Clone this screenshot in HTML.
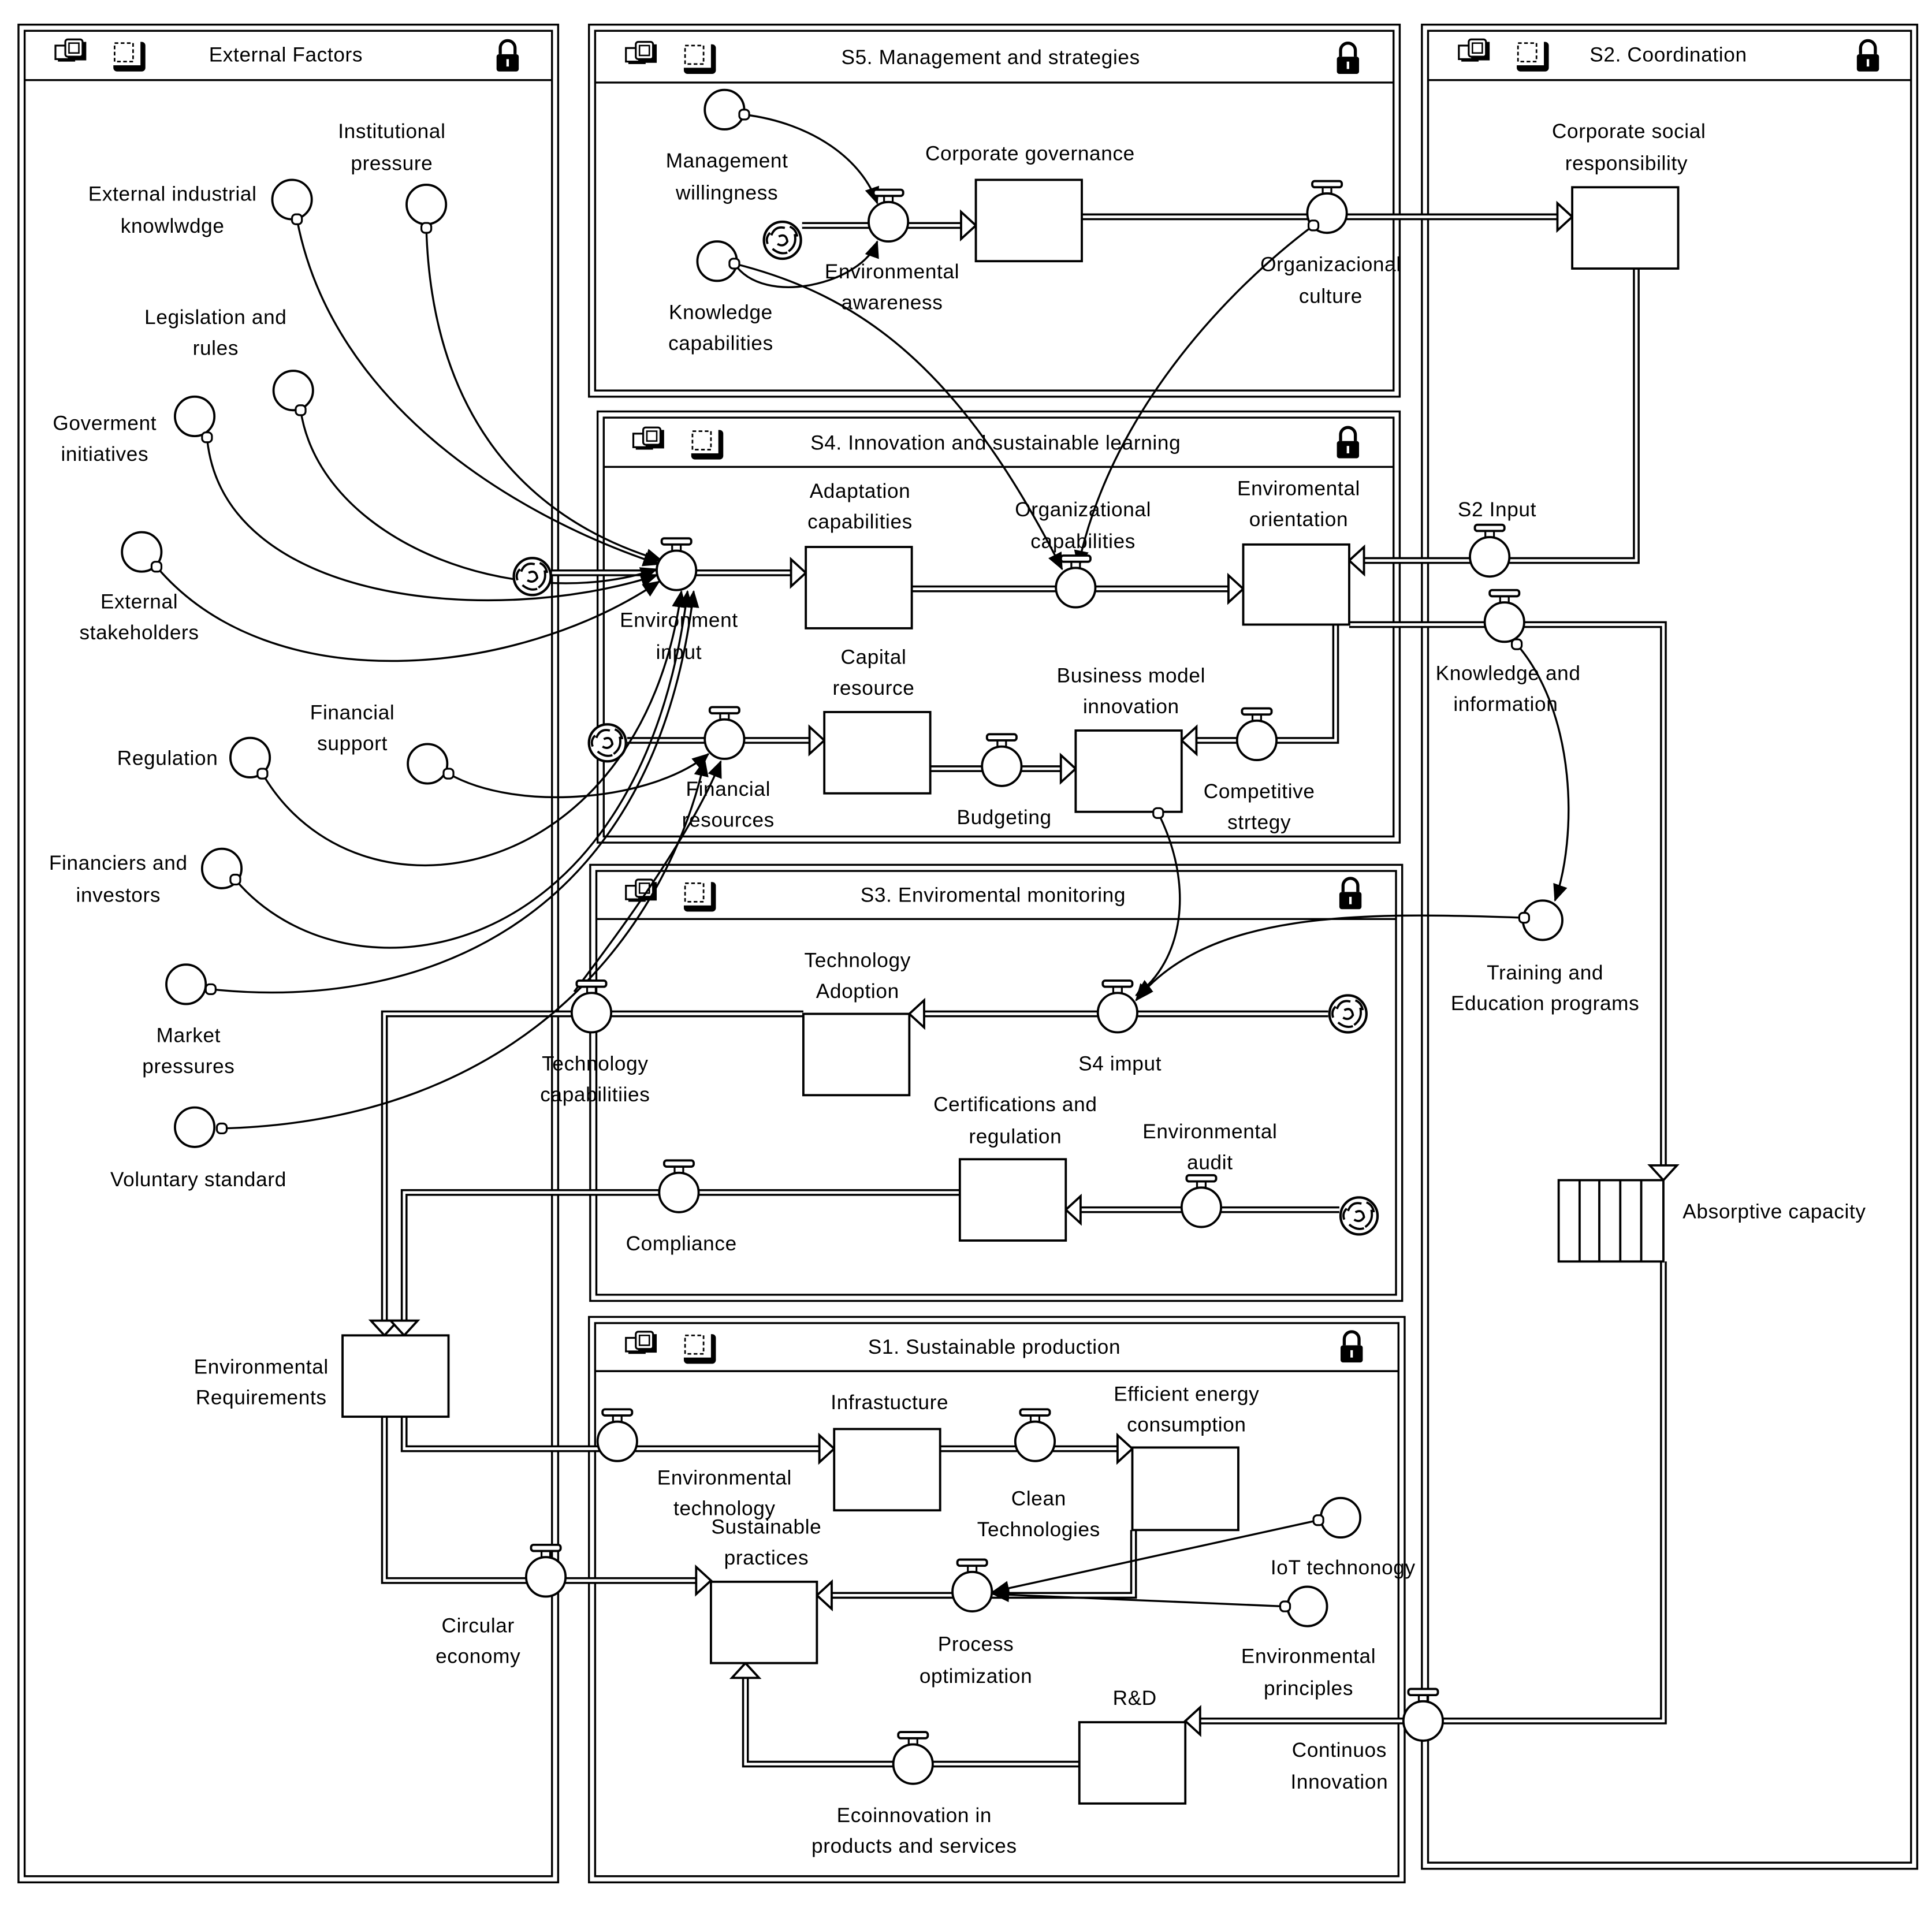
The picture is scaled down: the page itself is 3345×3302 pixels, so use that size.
<!DOCTYPE html>
<html><head><meta charset="utf-8"><style>
html,body{margin:0;padding:0;background:#fff}
svg{display:block}
text{font-family:"Liberation Sans",sans-serif;font-size:16.5px;fill:#000;text-anchor:middle;letter-spacing:0.3px}
</style></head><body>
<svg width="3345" height="3302" viewBox="0 0 1568 1548" preserveAspectRatio="none" xmlns="http://www.w3.org/2000/svg">
<defs>
<marker id="ar" markerWidth="14" markerHeight="12" refX="13" refY="6" orient="auto" markerUnits="userSpaceOnUse"><path d="M0,0 L14,6 L0,12 z" fill="#000"/></marker>
<g id="valve"><rect x="-3.5" y="-22" width="7" height="6" fill="#fff" stroke="#000" stroke-width="1.5"/><rect x="-12" y="-26" width="24" height="5" rx="2" fill="#fff" stroke="#000" stroke-width="1.8"/><circle r="16" fill="#fff" stroke="#000" stroke-width="1.8"/></g>
<g id="aux"><circle r="16" fill="#fff" stroke="#000" stroke-width="1.8"/></g>
<g id="cloud"><circle r="15" fill="#fff" stroke="#000" stroke-width="2"/><path d="M-9,-4 Q-6,-12 2,-10 M10,-5 Q12,4 5,9 M-8,7 Q-2,12 4,10 M-3,-3 Q3,-6 4,1 Q1,6 -4,3 M-12,3 Q-14,-2 -10,-6 M6,-11 Q11,-9 12,-3" fill="none" stroke="#000" stroke-width="1.8"/></g>
<g id="icons"><rect x="3" y="3" width="14" height="12" fill="#000"/><rect x="1" y="2" width="13" height="11" fill="#fff" stroke="#000" stroke-width="1.5"/><rect x="11" y="-1" width="15" height="15" fill="#000"/><rect x="9" y="-3" width="14" height="14" rx="2" fill="#fff" stroke="#000" stroke-width="1.5"/><rect x="12" y="0" width="8" height="8" fill="none" stroke="#000" stroke-width="1.2"/>
<rect x="48" y="-1" width="26" height="24" rx="3" fill="#000"/><rect x="45" y="-4" width="25" height="22" fill="#fff"/><rect x="49" y="0" width="15" height="15" fill="none" stroke="#000" stroke-width="1.3" stroke-dasharray="3,2"/></g>
<g id="lock"><path d="M-6,-3 V-8 A6,6 0 0 1 6,-8 V-3" fill="none" stroke="#000" stroke-width="2.5"/><rect x="-9" y="-3" width="18" height="14" rx="2" fill="#000"/><rect x="-1" y="1" width="2" height="6" fill="#fff"/></g>
<g id="dot"><rect x="-4" y="-4" width="8" height="8" rx="3" fill="#fff" stroke="#000" stroke-width="1.5"/></g>
</defs>
<g fill="none" stroke="#000" stroke-width="1.6">
<!-- panels -->
<rect x="15" y="20" width="438" height="1508"/><rect x="20" y="25" width="428" height="1498"/><line x1="20" y1="65" x2="448" y2="65"/>
<rect x="478" y="20" width="658" height="302"/><rect x="483" y="25" width="648" height="292"/><line x1="483" y1="67" x2="1131" y2="67"/>
<rect x="1154" y="20" width="402" height="1497"/><rect x="1159" y="25" width="392" height="1487"/><line x1="1159" y1="65" x2="1551" y2="65"/>
<rect x="485" y="334" width="651" height="350"/><rect x="490" y="339" width="641" height="340"/><line x1="490" y1="379" x2="1131" y2="379"/>
<rect x="479" y="702" width="659" height="354"/><rect x="484" y="707" width="649" height="344"/><line x1="484" y1="746" x2="1133" y2="746"/>
<rect x="478" y="1069" width="662" height="459"/><rect x="483" y="1074" width="652" height="449"/><line x1="483" y1="1113" x2="1135" y2="1113"/>
</g>
<use href="#icons" x="44" y="35"/><use href="#lock" x="412" y="47"/>
<use href="#icons" x="507" y="37"/><use href="#lock" x="1094" y="49"/>
<use href="#icons" x="1183" y="35"/><use href="#lock" x="1516" y="47"/>
<use href="#icons" x="513" y="350"/><use href="#lock" x="1094" y="361"/>
<use href="#icons" x="507" y="717"/><use href="#lock" x="1096" y="727"/>
<use href="#icons" x="507" y="1084"/><use href="#lock" x="1097" y="1095"/>
<text x="232" y="50">External Factors</text>
<text x="804" y="52">S5. Management and strategies</text>
<text x="1354" y="50">S2. Coordination</text>
<text x="808" y="365">S4. Innovation and sustainable learning</text>
<text x="806" y="732">S3. Enviromental monitoring</text>
<text x="807" y="1099">S1. Sustainable production</text>

<!-- pipes -->
<g fill="none" stroke-linejoin="miter">
<g stroke="#000" stroke-width="5.5">
<path d="M651,183 H782"/><path d="M878,176 H1266"/><path d="M1328,218 V455 H1105"/>
<path d="M448,465 H644"/><path d="M740,478 H999"/><path d="M1095,507 H1350 V948"/><path d="M1084,507 V601 H969"/>
<path d="M509,601 H659"/><path d="M755,624 H863"/>
<path d="M1078,823 H748"/><path d="M652,823 H312 V1074"/><path d="M1087,982 H875"/><path d="M779,968 H328 V1074"/>
<path d="M328,1150 V1176 H667"/><path d="M763,1176 H909"/><path d="M312,1150 V1283 H567"/><path d="M920,1242 V1295 H673"/>
<path d="M1350,1024 V1397 H972"/><path d="M876,1432 H605 V1360"/>
</g>
<g stroke="#fff" stroke-width="2.2">
<path d="M651,183 H782"/><path d="M878,176 H1266"/><path d="M1328,218 V455 H1105"/>
<path d="M448,465 H644"/><path d="M740,478 H999"/><path d="M1095,507 H1350 V948"/><path d="M1084,507 V601 H969"/>
<path d="M509,601 H659"/><path d="M755,624 H863"/>
<path d="M1078,823 H748"/><path d="M652,823 H312 V1074"/><path d="M1087,982 H875"/><path d="M779,968 H328 V1074"/>
<path d="M328,1150 V1176 H667"/><path d="M763,1176 H909"/><path d="M312,1150 V1283 H567"/><path d="M920,1242 V1295 H673"/>
<path d="M1350,1024 V1397 H972"/><path d="M876,1432 H605 V1360"/>
</g>
</g>
<!-- hollow arrowheads -->
<g fill="#fff" stroke="#000" stroke-width="1.8">
<path d="M780,172 L792,183 L780,194 z"/><path d="M1264,165 L1276,176 L1264,187 z"/><path d="M1107,444 L1095,455 L1107,466 z"/>
<path d="M642,454 L654,465 L642,476 z"/><path d="M997,467 L1009,478 L997,489 z"/><path d="M1339,946 L1350,958 L1361,946 z"/><path d="M971,590 L959,601 L971,612 z"/>
<path d="M657,590 L669,601 L657,612 z"/><path d="M861,613 L873,624 L861,635 z"/>
<path d="M750,812 L738,823 L750,834 z"/><path d="M301,1072 L312,1084 L323,1072 z"/><path d="M877,971 L865,982 L877,993 z"/><path d="M317,1072 L328,1084 L339,1072 z"/>
<path d="M665,1165 L677,1176 L665,1187 z"/><path d="M907,1165 L919,1176 L907,1187 z"/><path d="M565,1272 L577,1283 L565,1294 z"/><path d="M675,1284 L663,1295 L675,1306 z"/>
<path d="M974,1386 L962,1397 L974,1408 z"/><path d="M594,1362 L605,1350 L616,1362 z"/>
</g>
<!-- stocks -->
<g fill="#fff" stroke="#000" stroke-width="1.8">
<rect x="792" y="146" width="86" height="66"/><rect x="1276" y="152" width="86" height="66"/>
<rect x="654" y="444" width="86" height="66"/><rect x="1009" y="442" width="86" height="65"/>
<rect x="669" y="578" width="86" height="66"/><rect x="873" y="593" width="86" height="66"/>
<rect x="652" y="823" width="86" height="66"/><rect x="779" y="941" width="86" height="66"/>
<rect x="278" y="1084" width="86" height="66"/>
<rect x="677" y="1160" width="86" height="66"/><rect x="919" y="1175" width="86" height="67"/>
<rect x="577" y="1284" width="86" height="66"/><rect x="876" y="1398" width="86" height="66"/>
<rect x="1265" y="958" width="85" height="66"/>
<path d="M1282,958 V1024 M1298,958 V1024 M1315,958 V1024 M1332,958 V1024"/>
</g>
<!-- connectors -->
<g fill="none" stroke="#000" stroke-width="1.6" marker-end="url(#ar)">
<path d="M241,178 C270,330 420,420 535,458"/>
<path d="M346,185 C350,330 420,420 537,455"/>
<path d="M244,333 C260,440 420,500 533,462"/>
<path d="M168,355 C180,490 400,510 533,467"/>
<path d="M127,460 C220,570 420,550 535,472"/>
<path d="M213,628 C290,760 520,720 553,480"/>
<path d="M191,714 C280,820 520,790 558,480"/>
<path d="M171,803 C330,820 530,760 563,480"/>
<path d="M180,916 C420,910 540,760 572,617"/>
<path d="M364,628 C420,660 530,650 575,612"/>
<path d="M466,805 C500,760 560,680 585,618"/>
<path d="M604,93 C660,100 700,130 712,165"/>
<path d="M596,214 C620,250 700,230 712,196"/>
<path d="M596,214 C700,240 780,300 862,462"/>
<path d="M1066,183 C990,240 900,340 875,460"/>
<path d="M1231,523 C1280,580 1280,680 1262,731"/>
<path d="M1237,745 C1100,740 980,740 922,812"/>
<path d="M940,660 C970,720 960,780 922,808"/>
<path d="M1070,1234 L806,1292"/>
<path d="M1043,1304 L806,1294"/>
</g>
<!-- valves -->
<use href="#valve" x="721" y="180"/><use href="#valve" x="1077" y="173"/>
<use href="#valve" x="549" y="463"/><use href="#valve" x="873" y="477"/><use href="#valve" x="1209" y="452"/><use href="#valve" x="1221" y="505"/>
<use href="#valve" x="588" y="600"/><use href="#valve" x="813" y="622"/><use href="#valve" x="1020" y="601"/>
<use href="#valve" x="907" y="822"/><use href="#valve" x="480" y="822"/><use href="#valve" x="975" y="980"/><use href="#valve" x="551" y="968"/>
<use href="#valve" x="501" y="1170"/><use href="#valve" x="840" y="1170"/><use href="#valve" x="443" y="1280"/><use href="#valve" x="789" y="1292"/>
<use href="#valve" x="1155" y="1397"/><use href="#valve" x="741" y="1432"/>
<!-- clouds -->
<use href="#cloud" x="635" y="195"/><use href="#cloud" x="432" y="468"/><use href="#cloud" x="493" y="603"/><use href="#cloud" x="1094" y="823"/><use href="#cloud" x="1103" y="987"/>
<!-- auxiliaries -->
<use href="#aux" x="237" y="162"/><use href="#aux" x="346" y="166"/><use href="#aux" x="238" y="317"/><use href="#aux" x="158" y="338"/>
<use href="#aux" x="115" y="448"/><use href="#aux" x="203" y="615"/><use href="#aux" x="347" y="620"/><use href="#aux" x="180" y="705"/>
<use href="#aux" x="151" y="799"/><use href="#aux" x="158" y="915"/>
<use href="#aux" x="588" y="89"/><use href="#aux" x="582" y="212"/>
<use href="#aux" x="1252" y="747"/><use href="#aux" x="1088" y="1232"/><use href="#aux" x="1061" y="1304"/>
<!-- dots -->
<use href="#dot" x="241" y="178"/><use href="#dot" x="346" y="185"/><use href="#dot" x="244" y="333"/><use href="#dot" x="168" y="355"/>
<use href="#dot" x="127" y="460"/><use href="#dot" x="213" y="628"/><use href="#dot" x="364" y="628"/><use href="#dot" x="191" y="714"/>
<use href="#dot" x="171" y="803"/><use href="#dot" x="180" y="916"/><use href="#dot" x="604" y="93"/><use href="#dot" x="596" y="214"/>
<use href="#dot" x="1066" y="183"/><use href="#dot" x="1231" y="523"/><use href="#dot" x="1237" y="745"/><use href="#dot" x="940" y="660"/>
<use href="#dot" x="1070" y="1234"/><use href="#dot" x="1043" y="1304"/>
<!-- labels -->
<text x="140" y="163">External industrial</text><text x="140" y="189">knowlwdge</text>
<text x="318" y="112">Institutional</text><text x="318" y="138">pressure</text>
<text x="175" y="263">Legislation and</text><text x="175" y="288">rules</text>
<text x="85" y="349">Goverment</text><text x="85" y="374">initiatives</text>
<text x="113" y="494">External</text><text x="113" y="519">stakeholders</text>
<text x="136" y="621">Regulation</text>
<text x="286" y="584">Financial</text><text x="286" y="609">support</text>
<text x="96" y="706">Financiers and</text><text x="96" y="732">investors</text>
<text x="153" y="846">Market</text><text x="153" y="871">pressures</text>
<text x="161" y="963">Voluntary standard</text>
<text x="212" y="1115">Environmental</text><text x="212" y="1140">Requirements</text>
<text x="388" y="1325">Circular</text><text x="388" y="1350">economy</text>
<text x="590" y="136">Management</text><text x="590" y="162">willingness</text>
<text x="585" y="259">Knowledge</text><text x="585" y="284">capabilities</text>
<text x="724" y="226">Environmental</text><text x="724" y="251">awareness</text>
<text x="836" y="130">Corporate governance</text>
<text x="1080" y="220">Organizacional</text><text x="1080" y="246">culture</text>
<text x="1322" y="112">Corporate social</text><text x="1320" y="138">responsibility</text>
<text x="698" y="404">Adaptation</text><text x="698" y="429">capabilities</text>
<text x="879" y="419">Organizational</text><text x="879" y="445">capabilities</text>
<text x="1054" y="402">Enviromental</text><text x="1054" y="427">orientation</text>
<text x="1215" y="419">S2 Input</text>
<text x="551" y="509">Environment</text><text x="551" y="535">input</text>
<text x="709" y="539">Capital</text><text x="709" y="564">resource</text>
<text x="918" y="554">Business model</text><text x="918" y="579">innovation</text>
<text x="1224" y="552">Knowledge and</text><text x="1222" y="577">information</text>
<text x="591" y="646">Financial</text><text x="591" y="671">resources</text>
<text x="815" y="669">Budgeting</text>
<text x="1022" y="648">Competitive</text><text x="1022" y="673">strtegy</text>
<text x="696" y="785">Technology</text><text x="696" y="810">Adoption</text>
<text x="909" y="869">S4 imput</text>
<text x="483" y="869">Technology</text><text x="483" y="894">capabilitiies</text>
<text x="1254" y="795">Training and</text><text x="1254" y="820">Education programs</text>
<text x="824" y="902">Certifications and</text><text x="824" y="928">regulation</text>
<text x="982" y="924">Environmental</text><text x="982" y="949">audit</text>
<text x="553" y="1015">Compliance</text>
<text x="1440" y="989">Absorptive capacity</text>
<text x="722" y="1144">Infrastucture</text>
<text x="963" y="1137">Efficient energy</text><text x="963" y="1162">consumption</text>
<text x="588" y="1205">Environmental</text><text x="588" y="1230">technology</text>
<text x="843" y="1222">Clean</text><text x="843" y="1247">Technologies</text>
<text x="622" y="1245">Sustainable</text><text x="622" y="1270">practices</text>
<text x="1090" y="1278">IoT technonogy</text>
<text x="792" y="1340">Process</text><text x="792" y="1366">optimization</text>
<text x="1062" y="1350">Environmental</text><text x="1062" y="1376">principles</text>
<text x="921" y="1384">R&amp;D</text>
<text x="1087" y="1426">Continuos</text><text x="1087" y="1452">Innovation</text>
<text x="742" y="1479">Ecoinnovation in</text><text x="742" y="1504">products and services</text>
</svg>
</body></html>
